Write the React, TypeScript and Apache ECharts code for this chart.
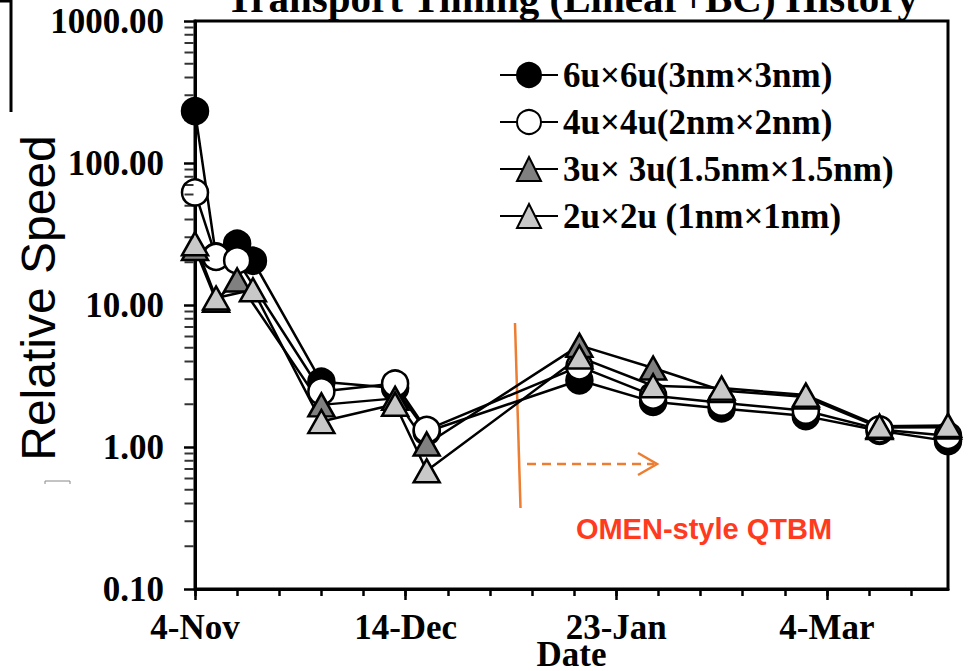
import { useEffect, useRef } from 'react';
import * as echarts from 'echarts';

// ---- data -------------------------------------------------------------
const startDate = '2012-11-04';
const endDate = '2013-03-27';

const labelDates = ['2012-11-04', '2012-12-14', '2013-01-23', '2013-03-04'];
const tickStepDays = 8;

const seriesNames = [
  '6u×6u(3nm×3nm)',
  '4u×4u(2nm×2nm)',
  '3u× 3u(1.5nm×1.5nm)',
  '2u×2u (1nm×1nm)',
];

const dates6u = ['2012-11-04', '2012-11-08', '2012-11-12', '2012-11-15', '2012-11-28', '2012-12-12', '2012-12-18', '2013-01-16', '2013-01-30', '2013-02-12', '2013-02-28', '2013-03-14', '2013-03-27'];
const speed6u = [232, 22, 27, 20.5, 2.88, 2.6, 1.28, 2.95, 2.08, 1.87, 1.65, 1.3, 1.1];

const dates4u = ['2012-11-04', '2012-11-08', '2012-11-12', '2012-11-28', '2012-12-12', '2012-12-18', '2013-01-16', '2013-01-30', '2013-02-12', '2013-02-28', '2013-03-14', '2013-03-27'];
const speed4u = [62, 21.8, 20.6, 2.46, 2.8, 1.32, 3.7, 2.3, 2.05, 1.8, 1.33, 1.2];

const dates3u = ['2012-11-04', '2012-11-08', '2012-11-12', '2012-11-28', '2012-12-12', '2012-12-18', '2013-01-16', '2013-01-30', '2013-02-12', '2013-02-28', '2013-03-14', '2013-03-27'];
const speed3u = [25, 10.8, 15, 1.98, 2.2, 1.05, 5.2, 3.6, 2.5, 2.25, 1.37, 1.38];

const dates2u = ['2012-11-04', '2012-11-08', '2012-11-15', '2012-11-28', '2012-12-12', '2012-12-18', '2013-01-16', '2013-01-30', '2013-02-12', '2013-02-28', '2013-03-14', '2013-03-27'];
const speed2u = [27, 11.2, 12.8, 1.51, 2.0, 0.68, 4.3, 2.7, 2.6, 2.32, 1.4, 1.42];

const yMinorTicks = [
  0.2, 0.3, 0.4, 0.5, 0.6, 0.7, 0.8, 0.9,
  2, 3, 4, 5, 6, 7, 8, 9,
  20, 30, 40, 50, 60, 70, 80, 90,
  200, 300, 400, 500, 600, 700, 800, 900,
];

// ---- helpers ----------------------------------------------------------
const MONTHS = ['Jan', 'Feb', 'Mar', 'Apr', 'May', 'Jun', 'Jul', 'Aug', 'Sep', 'Oct', 'Nov', 'Dec'];
const DAY_MS = 86400000;
const t0 = Date.parse(startDate + 'T00:00:00Z');
const dayOf = (d: string) => Math.round((Date.parse(d + 'T00:00:00Z') - t0) / DAY_MS);
const fmtDay = (v: number) => {
  const d = new Date(t0 + v * DAY_MS);
  return `${d.getUTCDate()}-${MONTHS[d.getUTCMonth()]}`;
};

const xMax = dayOf(endDate);
const labelDays = labelDates.map(dayOf);
const minorDays: number[] = [];
for (let d = 0; d <= xMax; d += tickStepDays) minorDays.push(d);

const SERIF = '"Liberation Serif", "Times New Roman", serif';
const SANS = '"Liberation Sans", Arial, sans-serif';
const ORANGE = '#ed7d31';

const lineSeries = (
  name: string,
  dates: string[],
  values: number[],
  symbol: string,
  fill: string,
  size: number | number[],
) => ({
  type: 'line',
  name,
  data: dates.map((d, i) => [dayOf(d), values[i]]),
  symbol,
  symbolSize: size,
  showSymbol: true,
  lineStyle: { color: '#000', width: 2.5 },
  itemStyle: { color: fill, borderColor: '#000', borderWidth: 2.5 },
  emphasis: { disabled: true },
  z: 3,
});

export default function App() {
  const ref = useRef<HTMLDivElement>(null);

  useEffect(() => {
    if (!ref.current) return;
    const chart = echarts.init(ref.current, null, { renderer: 'svg' });

    const option: any = {
      animation: false,
      backgroundColor: '#fff',
      grid: {
        left: 195,
        right: 26,
        top: 21,
        bottom: 82,
        outerBoundsMode: 'none',
        containLabel: false,
        show: true,
        borderColor: '#000',
        borderWidth: 3,
        backgroundColor: 'transparent',
      },
      legend: {
        orient: 'vertical',
        left: 494,
        top: 52,
        itemWidth: 58,
        itemHeight: 30,
        itemGap: 11,
        data: seriesNames,
        selectedMode: false,
        textStyle: {
          fontFamily: SERIF,
          fontWeight: 'bold',
          fontSize: 35,
          lineHeight: 36,
          color: '#000',
        },
      },
      xAxis: [
        {
          type: 'value',
          min: 0,
          max: xMax,
          axisLine: { show: true, onZero: false, lineStyle: { color: '#000', width: 3 } },
          axisTick: {
            show: true,
            customValues: labelDays,
            length: 11,
            lineStyle: { color: '#000', width: 2.5 },
          },
          axisLabel: {
            customValues: labelDays,
            formatter: (v: number) => fmtDay(v),
            margin: 25,
            lineHeight: 26,
            fontFamily: SERIF,
            fontWeight: 'bold',
            fontSize: 35,
            color: '#000',
          },
          splitLine: { show: false },
          name: 'Date',
          nameLocation: 'middle',
          nameGap: 52,
          nameMoveOverlap: false,
          nameTextStyle: {
            fontFamily: SERIF,
            fontWeight: 'bold',
            fontSize: 35,
            lineHeight: 26,
            color: '#000',
          },
        },
        {
          type: 'value',
          min: 0,
          max: xMax,
          position: 'bottom',
          offset: 0,
          axisLine: { show: false, onZero: false },
          axisTick: {
            show: true,
            customValues: minorDays,
            length: 7,
            lineStyle: { color: '#000', width: 2.5 },
          },
          axisLabel: { show: false },
          splitLine: { show: false },
        },
      ],
      yAxis: {
        type: 'log',
        logBase: 10,
        min: 0.1,
        max: 1000,
        axisLine: { show: true, onZero: false, lineStyle: { color: '#000', width: 3 } },
        axisTick: { show: true, length: 11, lineStyle: { color: '#000', width: 2.5 } },
        axisLabel: {
          margin: 31,
          showMinLabel: true,
          showMaxLabel: true,
          formatter: (v: number) => Number(v).toFixed(2),
          fontFamily: SERIF,
          fontWeight: 'bold',
          fontSize: 35,
          color: '#000',
        },
        splitLine: { show: false },
      },
      series: [
        lineSeries(seriesNames[0], dates6u, speed6u, 'circle', '#000', 26),
        lineSeries(seriesNames[1], dates4u, speed4u, 'circle', '#fff', 26),
        lineSeries(seriesNames[2], dates3u, speed3u, 'triangle', '#808080', [26, 23]),
        lineSeries(seriesNames[3], dates2u, speed2u, 'triangle', '#c8c8c8', [26, 23]),
        {
          // log-scale minor ticks (2..9 of each decade), just outside the left axis
          type: 'scatter',
          silent: true,
          clip: false,
          z: 4,
          symbol: 'rect',
          symbolSize: [9, 2],
          symbolOffset: [-6, 0],
          itemStyle: { color: '#000' },
          emphasis: { disabled: true },
          data: yMinorTicks.map((v) => [0, v]),
        },
      ],
      graphic: [
        {
          type: 'text',
          x: 572,
          y: -2,
          style: {
            text: 'Transport Timing (Linear+BC) History',
            font: `bold 41px ${SERIF}`,
            fill: '#000',
            align: 'center',
            verticalAlign: 'middle',
          },
        },
        {
          type: 'text',
          x: 38,
          y: 298,
          rotation: Math.PI / 2,
          style: {
            text: 'Relative Speed',
            font: `48px ${SANS}`,
            fill: '#000',
            align: 'center',
            verticalAlign: 'middle',
          },
        },
        {
          type: 'polyline',
          shape: { points: [[0, 1], [11, 1], [11, 112]] },
          style: { stroke: '#000', lineWidth: 3, fill: 'none' },
        },
        {
          type: 'polyline',
          shape: { points: [[45, 484], [45, 481], [70, 481], [70, 484]] },
          style: { stroke: '#888', lineWidth: 1, fill: 'none' },
        },
        {
          type: 'line',
          shape: { x1: 515, y1: 323, x2: 520.5, y2: 508 },
          style: { stroke: ORANGE, lineWidth: 2.5 },
        },
        {
          type: 'line',
          shape: { x1: 527, y1: 464, x2: 654, y2: 464 },
          style: { stroke: ORANGE, lineWidth: 2.5, lineDash: [9, 6] },
        },
        {
          type: 'polyline',
          shape: { points: [[638, 453], [657, 464], [638, 475]] },
          style: { stroke: ORANGE, lineWidth: 2.5, fill: 'none' },
        },
        {
          type: 'text',
          x: 704,
          y: 529,
          style: {
            text: 'OMEN-style QTBM',
            font: `bold 29px ${SANS}`,
            fill: '#ff3b1f',
            align: 'center',
            verticalAlign: 'middle',
          },
        },
      ],
    };

    chart.setOption(option);
    return () => chart.dispose();
  }, []);

  return (
    <div
      ref={ref}
      style={{ position: 'fixed', left: 0, top: 0, width: 974, height: 671, background: '#fff' }}
    />
  );
}
